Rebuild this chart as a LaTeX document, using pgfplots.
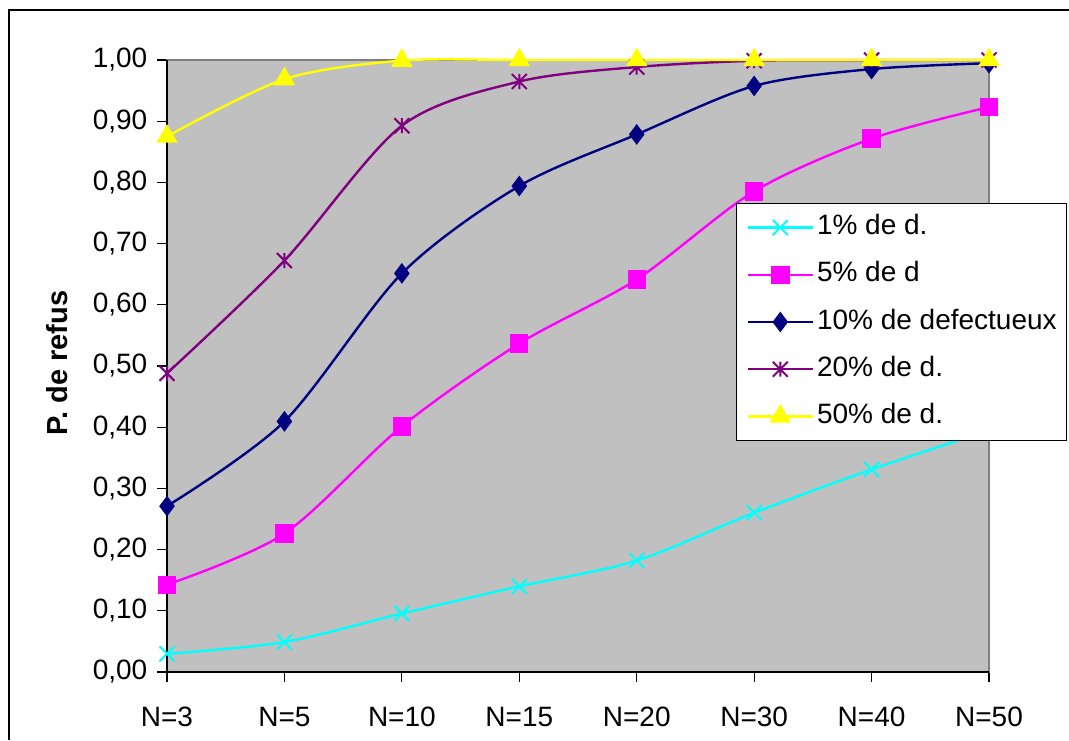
\documentclass[border=0pt]{standalone}
\usepackage{pgfplots}
\pgfplotsset{compat=1.18}
\usepackage{fontspec}
\setmainfont{Liberation Sans}

\definecolor{plotgray}{RGB}{192,192,192}
\definecolor{framegray}{RGB}{128,128,128}
\definecolor{cyanx}{RGB}{0,255,255}
\definecolor{magx}{RGB}{255,0,255}
\definecolor{navyx}{RGB}{0,0,128}
\definecolor{purplex}{RGB}{128,0,128}
\definecolor{yellowx}{RGB}{255,255,0}

% X with a vertical bar, like the spreadsheet asterisk
\pgfdeclareplotmark{xstar}{%
  \pgfpathmoveto{\pgfqpoint{-\pgfplotmarksize}{-\pgfplotmarksize}}%
  \pgfpathlineto{\pgfqpoint{\pgfplotmarksize}{\pgfplotmarksize}}%
  \pgfpathmoveto{\pgfqpoint{-\pgfplotmarksize}{\pgfplotmarksize}}%
  \pgfpathlineto{\pgfqpoint{\pgfplotmarksize}{-\pgfplotmarksize}}%
  \pgfpathmoveto{\pgfqpoint{0pt}{-\pgfplotmarksize}}%
  \pgfpathlineto{\pgfqpoint{0pt}{\pgfplotmarksize}}%
  \pgfusepathqstroke}

\begin{document}
\begin{tikzpicture}
  \fontsize{14}{16}\selectfont
  \begin{axis}[
      at={(83.5pt,34pt)}, anchor=south west,
      scale only axis,
      width=411pt, height=306pt,
      xmin=0, xmax=7,
      ymin=0, ymax=1,
      xtick={0,...,7},
      xticklabels={N=3,N=5,N=10,N=15,N=20,N=30,N=40,N=50},
      ytick={0,0.1,...,1.01},
      yticklabel style={/pgf/number format/.cd, fixed, fixed zerofill,
        precision=2, use comma},
      /pgf/number format/assume math mode=true,
      tick align=outside,
      major tick length=5pt,
      tick style={black, line width=0.6pt},
      xtick pos=bottom, ytick pos=left,
      xticklabel style={yshift=-7.5pt},
      ticklabel style={font=\fontsize{14}{16}\selectfont},
      axis background/.style={fill=plotgray},
      axis line style={framegray, line width=1pt},
      clip=false,
      every axis plot/.append style={line width=1.2pt, smooth, tension=0.5},
      legend style={
        at={(0.6922,0.7663)}, anchor=north west,
        fill=white, draw=black, line width=0.6pt,
        inner xsep=5pt, inner ysep=5.5pt,
        row sep=10.6pt, column sep=1.5pt,
        font=\fontsize{14}{16}\selectfont,
        nodes={inner sep=0pt, text height=10pt, text depth=3pt},
      },
      legend cell align=left,
      legend image code/.code={
        \draw[mark repeat=2, mark phase=2, #1]
          plot coordinates {(0pt,0pt) (16.25pt,0pt) (32.5pt,0pt)};
      },
    ]
    \addplot[cyanx, mark=x, mark size=5.3pt, mark options={line width=1pt}]
      coordinates {(0,0.0297) (1,0.0490) (2,0.0956) (3,0.1399)
                   (4,0.1821) (5,0.2603) (6,0.3310) (7,0.3950)};
    \addlegendentry{1\% de d.}
    \addplot[magx, mark=square*, mark size=4pt]
      coordinates {(0,0.1426) (1,0.2262) (2,0.4013) (3,0.5367)
                   (4,0.6415) (5,0.7854) (6,0.8715) (7,0.9231)};
    \addlegendentry{5\% de d}
    \addplot[navyx, mark=diamond*, mark size=4.2pt]
      coordinates {(0,0.2710) (1,0.4095) (2,0.6513) (3,0.7941)
                   (4,0.8784) (5,0.9576) (6,0.9852) (7,0.9948)};
    \addlegendentry{10\% de defectueux}
    \addplot[purplex, mark=xstar, mark size=3.75pt, mark options={line width=1pt}]
      coordinates {(0,0.4880) (1,0.6723) (2,0.8926) (3,0.9648)
                   (4,0.9885) (5,0.9988) (6,0.9999) (7,1.0000)};
    \addlegendentry{20\% de d.}
    \addplot[yellowx, mark=triangle*, mark size=5pt]
      coordinates {(0,0.8750) (1,0.9688) (2,0.9990) (3,1.0000)
                   (4,1.0000) (5,1.0000) (6,1.0000) (7,1.0000)};
    \addlegendentry{50\% de d.}
    % left and bottom axis lines are black
    \draw[black, line width=1pt] (rel axis cs:0,1) -- (rel axis cs:0,0) -- (rel axis cs:1,0);
  \end{axis}
  \node[rotate=90, font=\fontsize{14.5}{16}\bfseries] at (28.5pt,188.5pt) {P. de refus};
  \draw[black, line width=0.75pt] (4.5pt,0pt) -- (4.5pt,365pt) -- (534.5pt,365pt);
  \pgfresetboundingbox
  \path (0pt,0pt) rectangle (534.5pt,370pt);
\end{tikzpicture}
\end{document}
